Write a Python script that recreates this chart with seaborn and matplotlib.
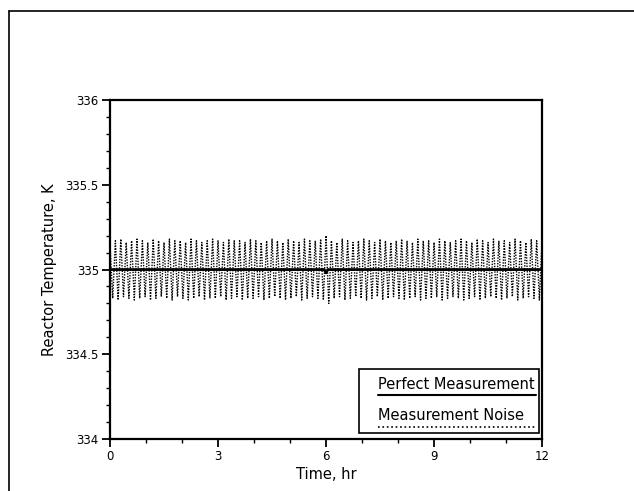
import numpy as np
import pandas as pd
import seaborn as sns
import matplotlib.pyplot as plt
from matplotlib.lines import Line2D
from matplotlib.patches import Rectangle
from matplotlib.ticker import MultipleLocator, FuncFormatter

# noise peaks (every 0.15 hr) and troughs (half a step later)
noise_high = [335.15, 335.17, 335.18, 335.16, 335.17, 335.18, 335.17, 335.16, 335.18, 335.17,
              335.16, 335.18, 335.17, 335.17, 335.16, 335.18, 335.17, 335.16, 335.17, 335.18,
              335.17, 335.16, 335.18, 335.17, 335.17, 335.16, 335.18, 335.17, 335.16, 335.17,
              335.18, 335.17, 335.16, 335.18, 335.17, 335.16, 335.18, 335.17, 335.17, 335.18,
              335.20, 335.17, 335.16, 335.18, 335.17, 335.16, 335.17, 335.18, 335.17, 335.16,
              335.18, 335.17, 335.16, 335.17, 335.18, 335.17, 335.16, 335.18, 335.17, 335.17,
              335.16, 335.18, 335.17, 335.16, 335.17, 335.18, 335.17, 335.16, 335.18, 335.17,
              335.16, 335.18, 335.17, 335.17, 335.16, 335.18, 335.17, 335.16, 335.18, 335.17,
              335.18]
noise_low = [334.83, 334.82, 334.84, 334.83, 334.82, 334.83, 334.84, 334.82, 334.83, 334.84,
             334.83, 334.82, 334.84, 334.83, 334.82, 334.83, 334.84, 334.82, 334.83, 334.83,
             334.84, 334.82, 334.83, 334.84, 334.82, 334.83, 334.83, 334.84, 334.82, 334.83,
             334.84, 334.83, 334.82, 334.83, 334.84, 334.82, 334.83, 334.84, 334.83, 334.82,
             334.80, 334.83, 334.84, 334.82, 334.83, 334.84, 334.83, 334.82, 334.83, 334.84,
             334.82, 334.83, 334.84, 334.83, 334.82, 334.83, 334.84, 334.82, 334.83, 334.83,
             334.84, 334.82, 334.83, 334.84, 334.83, 334.82, 334.83, 334.84, 334.82, 334.83,
             334.84, 334.83, 334.82, 334.83, 334.84, 334.82, 334.83, 334.84, 334.83, 334.82]
perfect_time = [0, 5.95, 6.0, 6.05, 12]
perfect_temp = [335.0, 335.0, 334.98, 335.0, 335.0]

x_ticks = [0, 3, 6, 9, 12]
y_ticks = [334, 334.5, 335, 335.5, 336]

vals = []
for i in range(len(noise_low)):
    vals.append(noise_high[i])
    vals.append(noise_low[i])
vals.append(noise_high[-1])
noise = pd.DataFrame({"time": np.arange(len(vals)) * 0.075, "temp": vals})
perfect = pd.DataFrame({"time": perfect_time, "temp": perfect_temp})

sns.set_style("ticks")
plt.rcParams['font.family'] = ['Liberation Sans Narrow', 'DejaVu Sans']
plt.rcParams['text.color'] = 'black'
plt.rcParams['axes.labelcolor'] = 'black'
plt.rcParams['xtick.color'] = 'black'
plt.rcParams['ytick.color'] = 'black'

fig = plt.figure(figsize=(6.34, 4.91), dpi=100)
ax = fig.add_axes([0.1735, 0.106, 0.6815, 0.69])

sns.lineplot(data=noise, x="time", y="temp", ax=ax, color="black", lw=1.0,
             linestyle=(0, (1, 1)), sort=False)
sns.lineplot(data=perfect, x="time", y="temp", ax=ax, color="black", lw=2)

ax.set_xlim(0, 12)
ax.set_ylim(334, 336)
ax.set_xticks(x_ticks)
ax.set_yticks(y_ticks)
ax.xaxis.set_minor_locator(MultipleLocator(1))
ax.yaxis.set_minor_locator(MultipleLocator(0.1))
ax.yaxis.set_major_formatter(FuncFormatter(lambda v, p: f"{v:g}"))
ax.tick_params(which="major", direction="out", length=6, width=1.3, labelsize=8.5, pad=2)
ax.tick_params(which="minor", direction="out", length=3, width=1)
for s in ax.spines.values():
    s.set_linewidth(1.6)
    s.set_color("black")
ax.set_xlabel("Time, hr", fontsize=10.5, labelpad=3)
ax.set_ylabel("Reactor Temperature, K", fontsize=10.5, labelpad=6)

# legend box with the line samples drawn under the text
ax.add_patch(Rectangle((0.576, 0.018), 0.417, 0.188, transform=ax.transAxes,
                       facecolor="white", edgecolor="black", lw=1.2, zorder=5))
ax.text(0.62, 0.162, "Perfect Measurement", transform=ax.transAxes,
        fontsize=10.5, va="center", zorder=6)
ax.add_line(Line2D([0.62, 0.985], [0.13, 0.13], transform=ax.transAxes,
                   color="black", lw=1.5, zorder=6))
ax.text(0.62, 0.068, "Measurement Noise", transform=ax.transAxes,
        fontsize=10.5, va="center", zorder=6)
ax.add_line(Line2D([0.62, 0.985], [0.036, 0.036], transform=ax.transAxes,
                   color="black", lw=1.2, linestyle=":", zorder=6))

# scanned page frame
fig.add_artist(Line2D([0.014, 1.0], [0.978, 0.978], color="black", lw=1.2))
fig.add_artist(Line2D([0.014, 0.014], [0.0, 0.978], color="black", lw=1.2))

fig.savefig("out.png", dpi=100)
